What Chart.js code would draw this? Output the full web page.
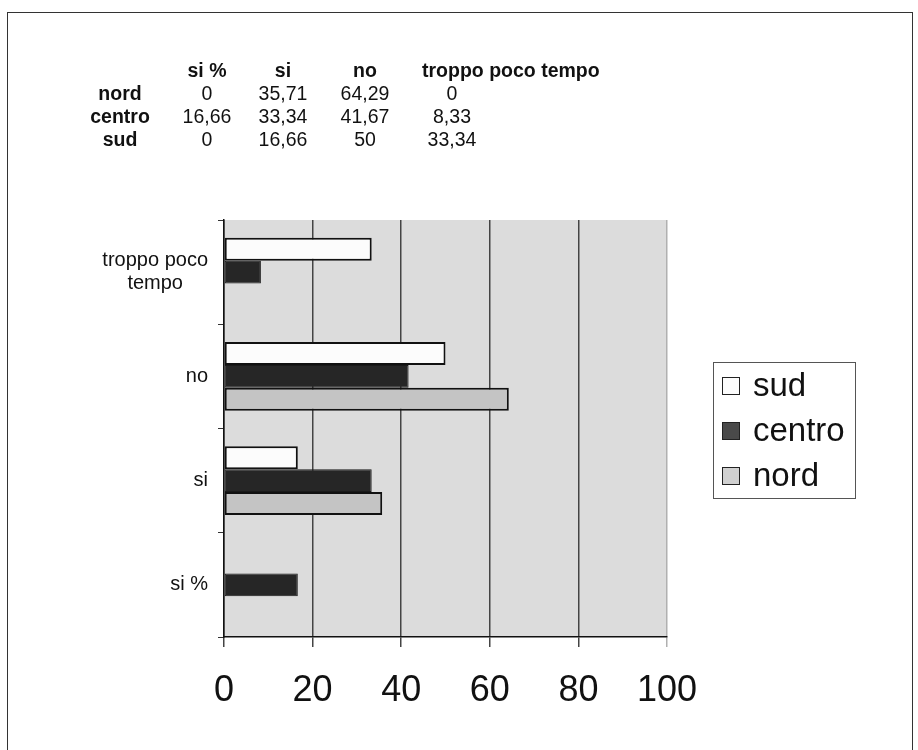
<!DOCTYPE html>
<html><head><meta charset="utf-8">
<script src="https://cdn.jsdelivr.net/npm/chart.js@4"></script>
<style>
html,body{margin:0;padding:0;background:#fff;}
body{width:918px;height:750px;position:relative;overflow:hidden;font-family:"Liberation Sans",Arial,sans-serif;color:#111;}
#frame{position:absolute;left:7px;top:12px;width:906px;height:780px;border:1.5px solid #333;box-sizing:border-box;}
#wrap{position:absolute;left:0;top:0;width:918px;height:750px;}
.t{position:absolute;font-size:19.5px;line-height:20px;white-space:nowrap;transform:translate(-50%,-50%);}
.l{transform:translate(0,-50%);}
.b{font-weight:bold;}
</style></head><body>
<div id="frame"></div>
<div id="wrap"><canvas id="c" width="918" height="750"></canvas></div>
<div id="table"></div>
<script>
const categories = ['si %', 'si', 'no', 'troppo poco tempo'];
const seriesNames = ['nord', 'centro', 'sud'];
const nord   = [0, 35.71, 64.29, 0];
const centro = [16.66, 33.34, 41.67, 8.33];
const sud    = [0, 16.66, 50, 33.34];
const xTickValues = [0, 20, 40, 60, 80, 100];

const FONT = '"Liberation Sans", Arial, sans-serif';
function fmt(v){ return String(v).replace('.', ','); }

// ---- data table above the chart ----
(function buildTable(){
  const t = document.getElementById('table');
  const colX = [207, 283, 365, 452];
  const rowY = [93, 116, 139];
  const headY = 70;
  const labelX = 120;
  function add(txt, x, y, cls){
    const d = document.createElement('div');
    d.className = 't ' + (cls||'');
    d.style.left = x + 'px'; d.style.top = y + 'px';
    d.textContent = txt; t.appendChild(d);
  }
  categories.forEach((c, i) => {
    if (i === categories.length - 1) add(c, 422, headY, 'b l');
    else add(c, colX[i], headY, 'b');
  });
  const rows = [nord, centro, sud];
  rows.forEach((vals, r) => {
    add(seriesNames[r], labelX, rowY[r], 'b');
    vals.forEach((v, i) => add(fmt(v), colX[i], rowY[r]));
  });
})();

function wrapLabel(lab){
  if (lab.length > 12) {
    const k = lab.lastIndexOf(' ');
    return [lab.slice(0, k), lab.slice(k + 1)];
  }
  return [lab];
}

const bgPlugin = {
  id: 'plotBg',
  beforeDraw(chart){
    const a = chart.chartArea, ctx = chart.ctx;
    ctx.save(); ctx.fillStyle = '#dcdcdc';
    ctx.fillRect(a.left, a.top, a.right - a.left, a.bottom - a.top);
    ctx.restore();
  }
};

const yLabelPlugin = {
  id: 'yLabels',
  afterDraw(chart){
    const s = chart.scales.y, ctx = chart.ctx;
    ctx.save();
    ctx.font = '20px ' + FONT;
    ctx.fillStyle = '#111';
    ctx.textBaseline = 'middle';
    ctx.textAlign = 'center';
    const right = s.right - 16;
    chart.data.labels.forEach((lab, i) => {
      const lines = wrapLabel(lab);
      const w = Math.max(...lines.map(l => ctx.measureText(l).width));
      const cx = right - w / 2;
      const y = s.getPixelForTick(i);
      const lh = 23;
      lines.forEach((l, j) => ctx.fillText(l, cx, y + (j - (lines.length - 1) / 2) * lh));
    });
    ctx.restore();
  }
};

const legendPlugin = {
  id: 'boxLegend',
  afterDraw(chart){
    const ctx = chart.ctx;
    const bx = 713, by = 362, bw = 142, bh = 136;
    ctx.save();
    ctx.strokeStyle = '#555'; ctx.lineWidth = 1;
    ctx.strokeRect(bx + 0.5, by + 0.5, bw, bh);
    ctx.font = '33px ' + FONT;
    ctx.textBaseline = 'middle'; ctx.textAlign = 'left';
    chart.data.datasets.forEach((ds, i) => {
      const cy = 386 + i * 45;
      ctx.fillStyle = ds.legendFill || ds.backgroundColor;
      ctx.fillRect(722, cy - 9, 18, 18);
      ctx.strokeStyle = '#222'; ctx.lineWidth = 1;
      ctx.strokeRect(722.5, cy - 8.5, 17, 17);
      ctx.fillStyle = '#111';
      ctx.fillText(ds.label, 753, cy + 1);
    });
    ctx.restore();
  }
};

const chart = new Chart(document.getElementById('c'), {
  type: 'bar',
  data: {
    labels: categories,
    datasets: [
      { label: seriesNames[2], data: sud, backgroundColor: '#fcfcfc', borderColor: '#111', borderWidth: 2, borderSkipped: false },
      { label: seriesNames[1], data: centro, backgroundColor: '#262626', borderColor: '#1a1a1a', borderWidth: 1, borderSkipped: false, legendFill: '#4a4a4a' },
      { label: seriesNames[0], data: nord, backgroundColor: '#c4c4c4', borderColor: '#111', borderWidth: 2, borderSkipped: false, legendFill: '#d0d0d0' }
    ]
  },
  options: {
    responsive: false,
    animation: false,
    indexAxis: 'y',
    layout: { padding: { left: 100, right: 251, top: 220, bottom: 38 } },
    plugins: { legend: { display: false }, tooltip: { enabled: false } },
    datasets: { bar: { categoryPercentage: 0.66, barPercentage: 1 } },
    scales: {
      x: {
        min: 0, max: 100,
        afterBuildTicks: s => { s.ticks = xTickValues.map(v => ({ value: v })); },
        ticks: { font: { size: 36, family: FONT }, color: '#111', padding: 22 },
        grid: {
          color: c => (c.tick && c.tick.value === 100) ? '#b0b0b0' : '#444',
          lineWidth: 1.5, tickLength: 10, drawTicks: true
        },
        border: { display: true, color: '#111', width: 1.5 },
        afterFit: s => { s.height = 75; }
      },
      y: {
        reverse: true,
        ticks: { display: false },
        grid: { drawOnChartArea: false, drawTicks: true, tickLength: 6, color: '#333', lineWidth: 1, offset: true },
        border: { display: true, color: '#111', width: 1.5 },
        afterFit: s => { s.width = 124; }
      }
    }
  },
  plugins: [bgPlugin, yLabelPlugin, legendPlugin]
});
</script>
</body></html>
